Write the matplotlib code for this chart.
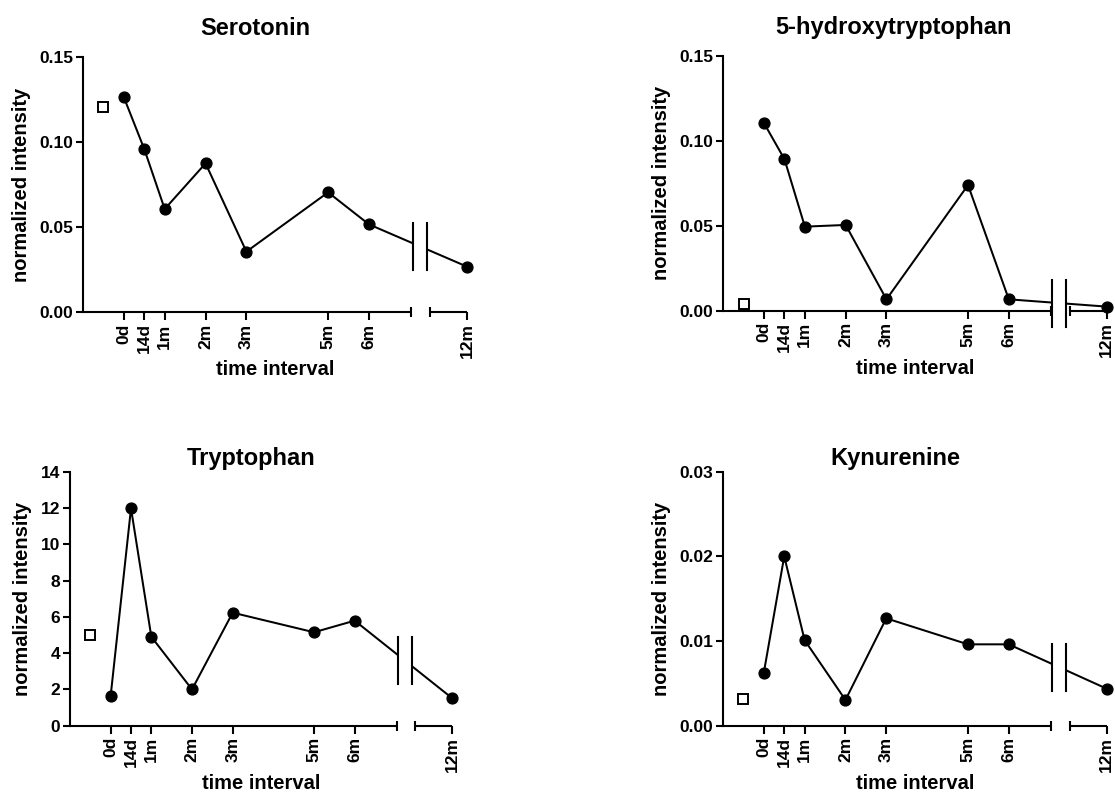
import matplotlib
matplotlib.use("Agg")
import matplotlib.pyplot as plt
from matplotlib.patches import Rectangle
import numpy as np

# ---- data ----
time_labels = ['0d', '14d', '1m', '2m', '3m', '5m', '6m', '12m']
time_pos = [0, 0.5, 1, 2, 3, 5, 6, 8.4]   # 12m placed after the axis break
control_pos = -0.5

titles = ['Serotonin', '5-hydroxytryptophan', 'Tryptophan', 'Kynurenine']

serotonin = [0.1262, 0.0958, 0.0606, 0.0874, 0.0356, 0.0704, 0.0516, 0.0268]
serotonin_control = 0.1207

hydroxytryptophan = [0.1104, 0.0892, 0.0495, 0.0505, 0.0067, 0.0740, 0.0067, 0.0024]
hydroxytryptophan_control = 0.0038

tryptophan = [1.65, 11.98, 4.9, 2.0, 6.23, 5.15, 5.79, 1.51]
tryptophan_control = 5.0

kynurenine = [0.00626, 0.0200, 0.0101, 0.00304, 0.01268, 0.00961, 0.00961, 0.00437]
kynurenine_control = 0.00319

yticks_list = [
    [0.00, 0.05, 0.10, 0.15],
    [0.00, 0.05, 0.10, 0.15],
    [0, 2, 4, 6, 8, 10, 12, 14],
    [0.00, 0.01, 0.02, 0.03],
]
ytick_fmt = ['{:.2f}', '{:.2f}', '{:d}', '{:.2f}']

series = [serotonin, hydroxytryptophan, tryptophan, kynurenine]
controls = [serotonin_control, hydroxytryptophan_control, tryptophan_control, kynurenine_control]

# ---- layout (pixels) ----
W, H = 1115, 794
boxes = [(83, 467, 56.7, 312.3), (723.3, 1106.7, 56, 310.7),
         (70, 452.3, 471.7, 725.7), (723, 1106.7, 471.7, 725.7)]
title_x = [0.45, 0.443, 0.474, 0.448]
title_pad = [15.6, 15.6, 4.8, 4.8]

plt.rcParams['font.family'] = ['Liberation Sans', 'DejaVu Sans']
plt.rcParams['font.weight'] = 'bold'
plt.rcParams['axes.labelweight'] = 'bold'

fig = plt.figure(figsize=(W / 100, H / 100), dpi=100)
fig.patch.set_facecolor('white')

LW = 1.5
seg1_end, seg2_start = 7.04, 7.49
bx1, bx2 = 7.07, 7.41

for i in range(4):
    l, r, t, b = boxes[i]
    ax = fig.add_axes([l / W, 1 - b / H, (r - l) / W, (b - t) / H])
    yt = yticks_list[i]
    ymin, ymax = yt[0], yt[-1]
    ax.set_xlim(-1, time_pos[-1])
    ax.set_ylim(ymin, ymax)

    for s in ['top', 'right', 'bottom']:
        ax.spines[s].set_visible(False)
    ax.spines['left'].set_linewidth(LW)

    # broken x axis
    ax.plot([-1, seg1_end], [ymin, ymin], color='black', lw=LW, clip_on=False,
            solid_capstyle='butt', zorder=3)
    ax.plot([seg2_start, time_pos[-1]], [ymin, ymin], color='black', lw=LW, clip_on=False,
            solid_capstyle='butt', zorder=3)
    ax.plot([seg1_end, seg2_start], [ymin, ymin], linestyle='none', marker='|',
            ms=7.5, mew=LW, color='black', clip_on=False, zorder=3)

    ax.set_xticks(time_pos)
    ax.set_xticklabels(time_labels, rotation=90, fontsize=12.5, fontweight='bold')
    ax.set_yticks(yt)
    ax.set_yticklabels([ytick_fmt[i].format(v) for v in yt], fontsize=12.5, fontweight='bold')
    ax.tick_params(axis='x', direction='out', length=6, width=LW, pad=2)
    ax.tick_params(axis='y', direction='out', length=5, width=LW, pad=2)

    vals = series[i]
    ax.plot(time_pos, vals, color='black', lw=1.45, zorder=2, clip_on=False)

    # break marks over the data line
    yr = ymax - ymin
    half = yr * 23.5 / (b - t)
    xm = (bx1 + bx2) / 2
    yc = np.interp(xm, [time_pos[-2], time_pos[-1]], [vals[-2], vals[-1]])
    ax.add_patch(Rectangle((bx1, yc - half), bx2 - bx1, 2 * half, facecolor='white',
                           edgecolor='none', zorder=2.5, clip_on=False))
    for bx in (bx1, bx2):
        ax.plot([bx, bx], [yc - half, yc + half], color='black', lw=LW, zorder=3.5,
                clip_on=False)

    ax.plot(time_pos, vals, linestyle='none', marker='o', ms=7.8, color='black',
            zorder=4, clip_on=False)
    ax.plot([control_pos], [controls[i]], linestyle='none', marker='s', ms=7,
            mfc='white', mec='black', mew=1.4, zorder=4, clip_on=False)

    ax.set_ylabel('normalized intensity', fontsize=14.5, fontweight='bold', labelpad=6)
    ax.set_xlabel('time interval', fontsize=14.5, fontweight='bold', labelpad=1.5)
    ax.set_title(titles[i], fontsize=17, fontweight='bold', x=title_x[i], pad=title_pad[i])
    ax.set_facecolor('none')

fig.savefig('out.png', dpi=100, facecolor='white')
